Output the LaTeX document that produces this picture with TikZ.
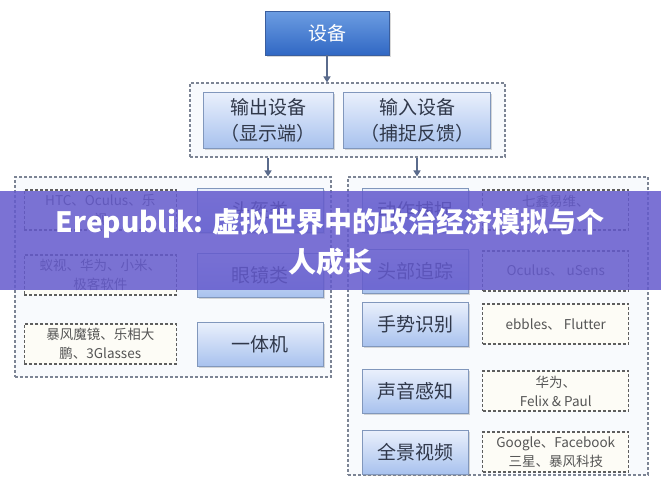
\documentclass[tikz,border=0pt]{standalone}
\usepackage{fontspec}
\setmainfont{Noto Sans CJK SC}
\usetikzlibrary{arrows.meta,positioning,shadows,fit}

\definecolor{cattop}{HTML}{EAF0FC}
\definecolor{catbot}{HTML}{A8C2EE}
\definecolor{catline}{HTML}{8197BC}
\definecolor{cattext}{HTML}{30384A}
\definecolor{devtop}{HTML}{6C9DE2}
\definecolor{devbot}{HTML}{3168C4}
\definecolor{devline}{HTML}{3A5E9E}
\definecolor{notefill}{HTML}{FDFCF6}
\definecolor{noteline}{HTML}{5E5E5E}
\definecolor{notetext}{HTML}{555555}
\definecolor{grpline}{HTML}{7C8494}
\definecolor{grpfill}{HTML}{F8FAFD}
\definecolor{arrowcol}{HTML}{5A6B8C}
\definecolor{banner}{RGB}{100,90,205}

\begin{document}
\begin{tikzpicture}[
x=1pt, y=-1pt,
devbox/.style={rectangle, draw=devline, top color=devtop, bottom color=devbot, minimum width=124pt, minimum height=44pt, text=white, font=\fontsize{19}{24}\selectfont, drop shadow={opacity=0.3, shadow xshift=1.5pt, shadow yshift=-1.5pt}},
catbox/.style={rectangle, draw=catline, top color=cattop, bottom color=catbot, minimum height=44pt, text=cattext, font=\fontsize{19}{26}\selectfont, align=center, drop shadow={opacity=0.3, shadow xshift=1.5pt, shadow yshift=-1.5pt}},
notebox/.style={rectangle, draw=noteline, dash pattern=on 3pt off 2pt, line width=1.1pt, fill=notefill, minimum height=40pt, text=notetext, font=\fontsize{13.5}{19}\selectfont, align=center, inner sep=2pt},
group/.style={rectangle, draw=grpline, dash pattern=on 3pt off 2pt, line width=1.1pt, fill=grpfill, inner sep=0pt},
arrow/.style={-{Triangle[length=6pt,width=7pt]}, draw=arrowcol, line width=1.6pt}
]

\fill[white] (0,0) rectangle (661,482);
\useasboundingbox (0,0) rectangle (661,482);

% dashed groups
\node[group, fit={(190,83) (505,157)}] (grp1) {};
\node[group, fit={(15,177) (331,377)}] (lgrp) {};
\node[group, fit={(348,177) (648,475)}] (rgrp) {};

\node[devbox] (dev) at (327,33) {设备};

\node[catbox, minimum width=130pt, minimum height=56pt] (out) at (268,120) {输出设备\\（显示端）};
\node[catbox, minimum width=147pt, minimum height=56pt] (in) at (417,120) {输入设备\\（捕捉反馈）};

% output devices
\node[catbox, minimum width=126pt] (helmet) at (260,210) {头盔类};
\node[catbox, minimum width=126pt] (glasses) at (260,275) {眼镜类};
\node[catbox, minimum width=126pt] (allinone) at (260,344) {一体机};

\node[notebox, minimum width=152pt, left=20pt of helmet] (helmetnote) {HTC、Oculus、乐\\视};
\node[notebox, minimum width=152pt, left=20pt of glasses] (glassesnote) {蚁视、华为、小米、\\极客软件};
\node[notebox, minimum width=152pt, left=20pt of allinone] (allinonenote) {暴风魔镜、乐相大\\鹏、3Glasses};

% input devices
\node[catbox, minimum width=106pt] (motion) at (415,210) {动作捕捉};
\node[catbox, minimum width=106pt] (head) at (415,271) {头部追踪};
\node[catbox, minimum width=106pt] (gesture) at (415,324) {手势识别};
\node[catbox, minimum width=106pt] (sound) at (415,391) {声音感知};
\node[catbox, minimum width=106pt] (pano) at (415,452) {全景视频};

\node[notebox, minimum width=146pt, right=14pt of motion] (motionnote) {七鑫易维、\\\mbox{}};
\node[notebox, minimum width=146pt, right=14pt of head] (headnote) {Oculus、 uSens};
\node[notebox, minimum width=146pt, right=14pt of gesture] (gesturenote) {ebbles、 Flutter};
\node[notebox, minimum width=146pt, right=14pt of sound] (soundnote) {华为、\\Felix \& Paul};
\node[notebox, minimum width=146pt, right=14pt of pano] (panonote) {Google、Facebook\\三星、暴风科技};

\draw[arrow] (dev.south) -- (dev.south |- grp1.north);
\draw[arrow] (out.south |- grp1.south) -- (out.south |- lgrp.north);
\draw[arrow] (in.south |- grp1.south) -- (in.south |- rgrp.north);

% title banner
\fill[banner, opacity=0.85] (0,191) rectangle (661,290);
\node[text=white, font=\fontsize{28}{40}\selectfont\bfseries, align=center] (title) at (330,242) {Erepublik: 虚拟世界中的政治经济模拟与个\\人成长};

\end{tikzpicture}
\end{document}
